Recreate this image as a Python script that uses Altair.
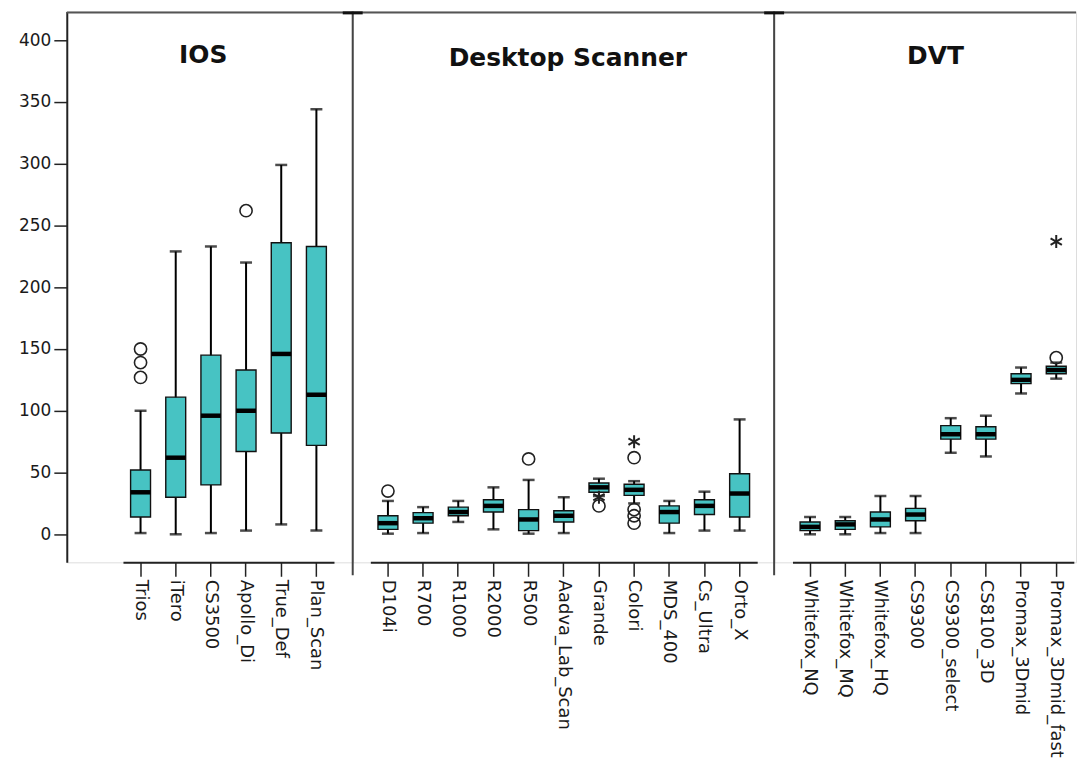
import altair as alt
import pandas as pd

# ---------------- data ----------------
ios_cats = ["Trios", "iTero", "CS3500", "Apollo_Di", "True_Def", "Plan_Scan"]
ios_low = [1, 0, 1, 3, 8, 3]
ios_q1 = [14, 30, 40, 67, 82, 72]
ios_med = [34, 62, 96, 100, 146, 113]
ios_q3 = [52, 111, 145, 133, 236, 233]
ios_high = [100, 229, 233, 220, 299, 344]
ios_circle_cat = ["Trios", "Trios", "Trios", "Apollo_Di"]
ios_circle_val = [127, 139, 150, 262]
ios_star_cat = []
ios_star_val = []

desk_cats = ["D104i", "R700", "R1000", "R2000", "R500", "Aadva_Lab_Scan",
             "Grande", "Colori", "MDS_400", "Cs_Ultra", "Orto_X"]
desk_low = [0.5, 1, 10, 4, 0.5, 1, 31, 25, 1, 3, 3]
desk_q1 = [4, 9, 15, 18, 3, 10, 34, 31.5, 9, 16, 14]
desk_med = [9, 13, 18, 23, 12, 15, 38, 36, 18, 23, 33]
desk_q3 = [15, 17.5, 22, 28, 20, 19, 41.5, 40.5, 23, 28, 49]
desk_high = [27, 22, 27, 38, 44, 30, 45, 43, 27, 34.5, 93]
desk_circle_cat = ["D104i", "R500", "Grande", "Colori", "Colori", "Colori", "Colori"]
desk_circle_val = [35, 61, 23, 62, 20, 15, 9]
desk_star_cat = ["Grande", "Colori"]
desk_star_val = [30, 75]

dvt_cats = ["Whitefox_NQ", "Whitefox_MQ", "Whitefox_HQ", "CS9300",
            "CS9300_select", "CS8100_3D", "Promax_3Dmid", "Promax_3Dmid_fast"]
dvt_low = [0, 0, 1, 1, 66, 63, 114, 126]
dvt_q1 = [3, 4, 6, 11, 77, 77, 122, 130]
dvt_med = [6, 8, 12, 16, 81, 81, 125, 133]
dvt_q3 = [10, 11, 18, 21, 88, 87, 130, 136]
dvt_high = [14, 14, 31, 31, 94, 96, 135, 139]
dvt_circle_cat = ["Promax_3Dmid_fast"]
dvt_circle_val = [143]
dvt_star_cat = ["Promax_3Dmid_fast"]
dvt_star_val = [237]

# ---------------- styling ----------------
TEAL = "#47C3C3"
H = 553
STEP = 35.3
YDOM = [-22.7, 423.3]
FONT = "DejaVu Sans"
AST = "M0,-1L0,1M-0.87,-0.5L0.87,0.5M-0.87,0.5L0.87,-0.5"


def panel(cats, low, q1, med, q3, high, ccat, cval, scat, sval,
          title, tx, ty, width, offset, first):
    df = pd.DataFrame({"cat": cats, "low": low, "q1": q1, "med": med,
                       "q3": q3, "high": high})
    xscale = alt.Scale(domain=cats, paddingInner=0, paddingOuter=0,
                       range=[offset, offset + STEP * len(cats)])
    xaxis = alt.Axis(title=None, labelAngle=90, labelAlign="left",
                     labelBaseline="middle", tickSize=14, labelPadding=3,
                     labelFontSize=18, labelFont=FONT, labelColor="#1a1a1a",
                     domainColor="#222", domainWidth=2, tickColor="#222",
                     tickWidth=1.5)
    yscale = alt.Scale(domain=YDOM, nice=False, zero=False)
    if first:
        yaxis = alt.Axis(title=None, values=list(range(0, 401, 50)), grid=False,
                         tickSize=13, labelPadding=3, labelFontSize=17,
                         labelFont=FONT, labelColor="#1a1a1a",
                         domainColor="#222", domainWidth=2, tickColor="#222",
                         tickWidth=1.5)
    else:
        yaxis = None
    X = alt.X("cat:N", scale=xscale, sort=cats, axis=xaxis)
    base = alt.Chart(df)
    whisk = base.mark_rule(color="black", strokeWidth=2).encode(
        x=X, y=alt.Y("low:Q", scale=yscale, axis=yaxis), y2="high:Q")
    cap_lo = base.mark_tick(color="black", size=12, thickness=2.5).encode(
        x=X, y=alt.Y("low:Q", scale=yscale))
    cap_hi = base.mark_tick(color="black", size=12, thickness=2.5).encode(
        x=X, y=alt.Y("high:Q", scale=yscale))
    box = base.mark_bar(size=20, fill=TEAL, stroke="#111", strokeWidth=1.4).encode(
        x=X, y=alt.Y("q1:Q", scale=yscale), y2="q3:Q")
    medi = base.mark_tick(color="black", size=20, thickness=4.5, opacity=1).encode(
        x=X, y=alt.Y("med:Q", scale=yscale))
    layers = [whisk, cap_lo, cap_hi, box, medi]
    if ccat:
        cdf = pd.DataFrame({"cat": ccat, "v": cval})
        layers.append(alt.Chart(cdf).mark_point(
            shape="circle", filled=False, size=150, stroke="#222",
            strokeWidth=1.6, opacity=1).encode(
            x=X, y=alt.Y("v:Q", scale=yscale)))
    if scat:
        sdf = pd.DataFrame({"cat": scat, "v": sval})
        layers.append(alt.Chart(sdf).mark_point(
            shape=AST, filled=False, size=170, stroke="#222",
            strokeWidth=2, opacity=1).encode(
            x=X, y=alt.Y("v:Q", scale=yscale)))
    one = pd.DataFrame({"t": [title]})
    layers.append(alt.Chart(one).mark_text(
        font=FONT, fontWeight="bold", fontSize=25, color="#111",
        baseline="alphabetic", align="center").encode(
        text="t:N", x=alt.value(tx), y=alt.value(ty)))
    layers.append(alt.Chart(one).mark_rule(color="#555", strokeWidth=2).encode(
        x=alt.value(0), x2=alt.value(width), y=alt.value(1)))
    if not first:
        layers.append(alt.Chart(one).mark_rule(color="#444", strokeWidth=2).encode(
            x=alt.value(0), y=alt.value(0), y2=alt.value(H + 13)))
        layers.append(alt.Chart(one).mark_rule(color="#111", strokeWidth=3).encode(
            x=alt.value(-10), x2=alt.value(10), y=alt.value(1.5)))
    return alt.layer(*layers).properties(width=width, height=H)


p1 = panel(ios_cats, ios_low, ios_q1, ios_med, ios_q3, ios_high,
           ios_circle_cat, ios_circle_val, ios_star_cat, ios_star_val,
           "IOS", 137, 52, 287, 56.4, True)
p2 = panel(desk_cats, desk_low, desk_q1, desk_med, desk_q3, desk_high,
           desk_circle_cat, desk_circle_val, desk_star_cat, desk_star_val,
           "Desktop Scanner", 216, 55, 423, 17.7, False)
p3 = panel(dvt_cats, dvt_low, dvt_q1, dvt_med, dvt_q3, dvt_high,
           dvt_circle_cat, dvt_circle_val, dvt_star_cat, dvt_star_val,
           "DVT", 162, 53, 303, 18.4, False)

chart = alt.hconcat(p1, p2, p3, spacing=0, bounds="flush").properties(
    padding={"left": 10, "top": 0, "right": 0, "bottom": 0}
).configure_view(stroke=None).configure(background="white")

chart.save("out.html", embed_options={"renderer": "svg", "actions": False})
